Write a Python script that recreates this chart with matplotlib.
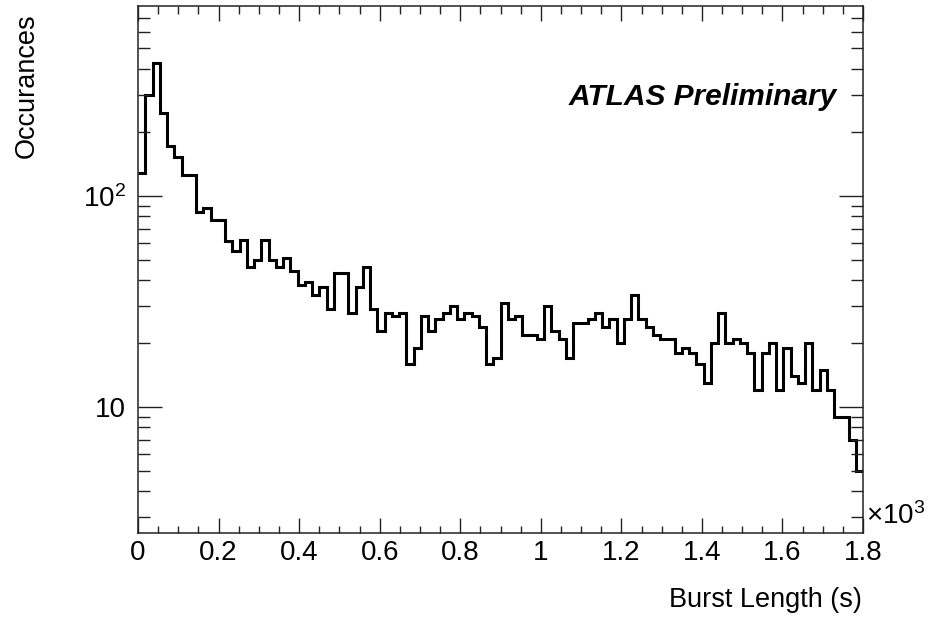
#!/usr/bin/env python3
"""
Burst length distribution (log scale histogram, ROOT-like style)
"""

import numpy as np
import matplotlib
matplotlib.use("Agg")
import matplotlib.pyplot as plt
from matplotlib.ticker import FixedLocator, FixedFormatter, MultipleLocator, FuncFormatter, NullFormatter

# histogram: 100 bins of 18 s between 0 and 1800 s
bin_width = 18.0
n_bins = 100

# entries per bin
counts = [
    129, 301, 426, 247, 173, 153, 126, 126, 84, 88,
    77, 77, 61, 55, 62, 46, 50, 62, 50, 46,
    51, 44, 38, 39, 34, 37, 29, 43, 43, 28,
    37, 46, 29, 23, 28, 27, 28, 16, 19, 27,
    23, 26, 28, 30, 26, 28, 27, 24, 16, 17,
    31, 26, 27, 22, 22, 21, 30, 23, 21, 17,
    25, 25, 26, 28, 24, 26, 20, 26, 34, 26,
    24, 22, 21, 21, 18, 19, 18, 16, 13, 20,
    28, 20, 21, 20, 18, 12, 18, 20, 12, 19,
    14, 13, 20, 12, 15, 12, 9, 9, 7, 5,
]

x_major = [0, 200, 400, 600, 800, 1000, 1200, 1400, 1600, 1800]
y_major = [10, 100]
y_major_labels = ["10", r"$\mathregular{10^{2}}$"]
y_minor = [3, 4, 5, 6, 7, 8, 9, 20, 30, 40, 50, 60, 70, 80, 90, 200, 300, 400, 500, 600, 700]

x_title = "Burst Length (s)"
y_title = "Occurances"
label_text = "ATLAS Preliminary"


def main():
    plt.rcParams['font.family'] = ['Liberation Sans', 'DejaVu Sans']
    plt.rcParams['mathtext.fontset'] = 'custom'
    plt.rcParams['mathtext.rm'] = 'Liberation Sans'

    fig = plt.figure(figsize=(9.32, 6.23), dpi=100)
    ax = fig.add_axes([0.1481, 0.1445, 0.7779, 0.8459])

    edges = np.arange(n_bins + 1) * bin_width
    ax.stairs(counts, edges, baseline=None, color='black', linewidth=2.2)

    ax.set_xlim(0, 1800)
    ax.set_yscale('log')
    ax.set_ylim(2.53, 795)

    # x axis: labels in units of 10^3
    ax.xaxis.set_major_locator(FixedLocator(x_major))
    ax.xaxis.set_major_formatter(FuncFormatter(lambda v, p: f"{v / 1000:g}"))
    ax.xaxis.set_minor_locator(MultipleLocator(50))

    # y axis: log ticks
    ax.yaxis.set_major_locator(FixedLocator(y_major))
    ax.yaxis.set_major_formatter(FixedFormatter(y_major_labels))
    ax.yaxis.set_minor_locator(FixedLocator(y_minor))
    ax.yaxis.set_minor_formatter(NullFormatter())

    ax.tick_params(which='both', direction='in', top=True, right=True,
                   colors='#222222', labelcolor='black', width=1.0)
    ax.tick_params(axis='x', which='major', length=10.8, pad=5, labelsize=20)
    ax.tick_params(axis='x', which='minor', length=5.4)
    ax.tick_params(axis='y', which='major', length=17.3, pad=9, labelsize=20)
    ax.tick_params(axis='y', which='minor', length=8.6)

    for spine in ax.spines.values():
        spine.set_linewidth(1.1)
        spine.set_color('#222222')

    # axis titles at the far ends of the axes
    fig.text(0.925, 0.037, x_title, ha='right', va='center', fontsize=19.5)
    fig.text(0.029, 0.979, y_title, ha='center', va='top', rotation=90, fontsize=19.5)
    fig.text(0.929, 0.172, "×$\\mathregular{10^{3}}$", ha='left', va='center', fontsize=20)

    ax.text(0.964, 0.827, label_text, transform=ax.transAxes, ha='right', va='center',
            fontsize=21.5, fontweight='bold', fontstyle='italic')

    fig.savefig('out.png', dpi=100)
    plt.close(fig)


if __name__ == '__main__':
    main()
